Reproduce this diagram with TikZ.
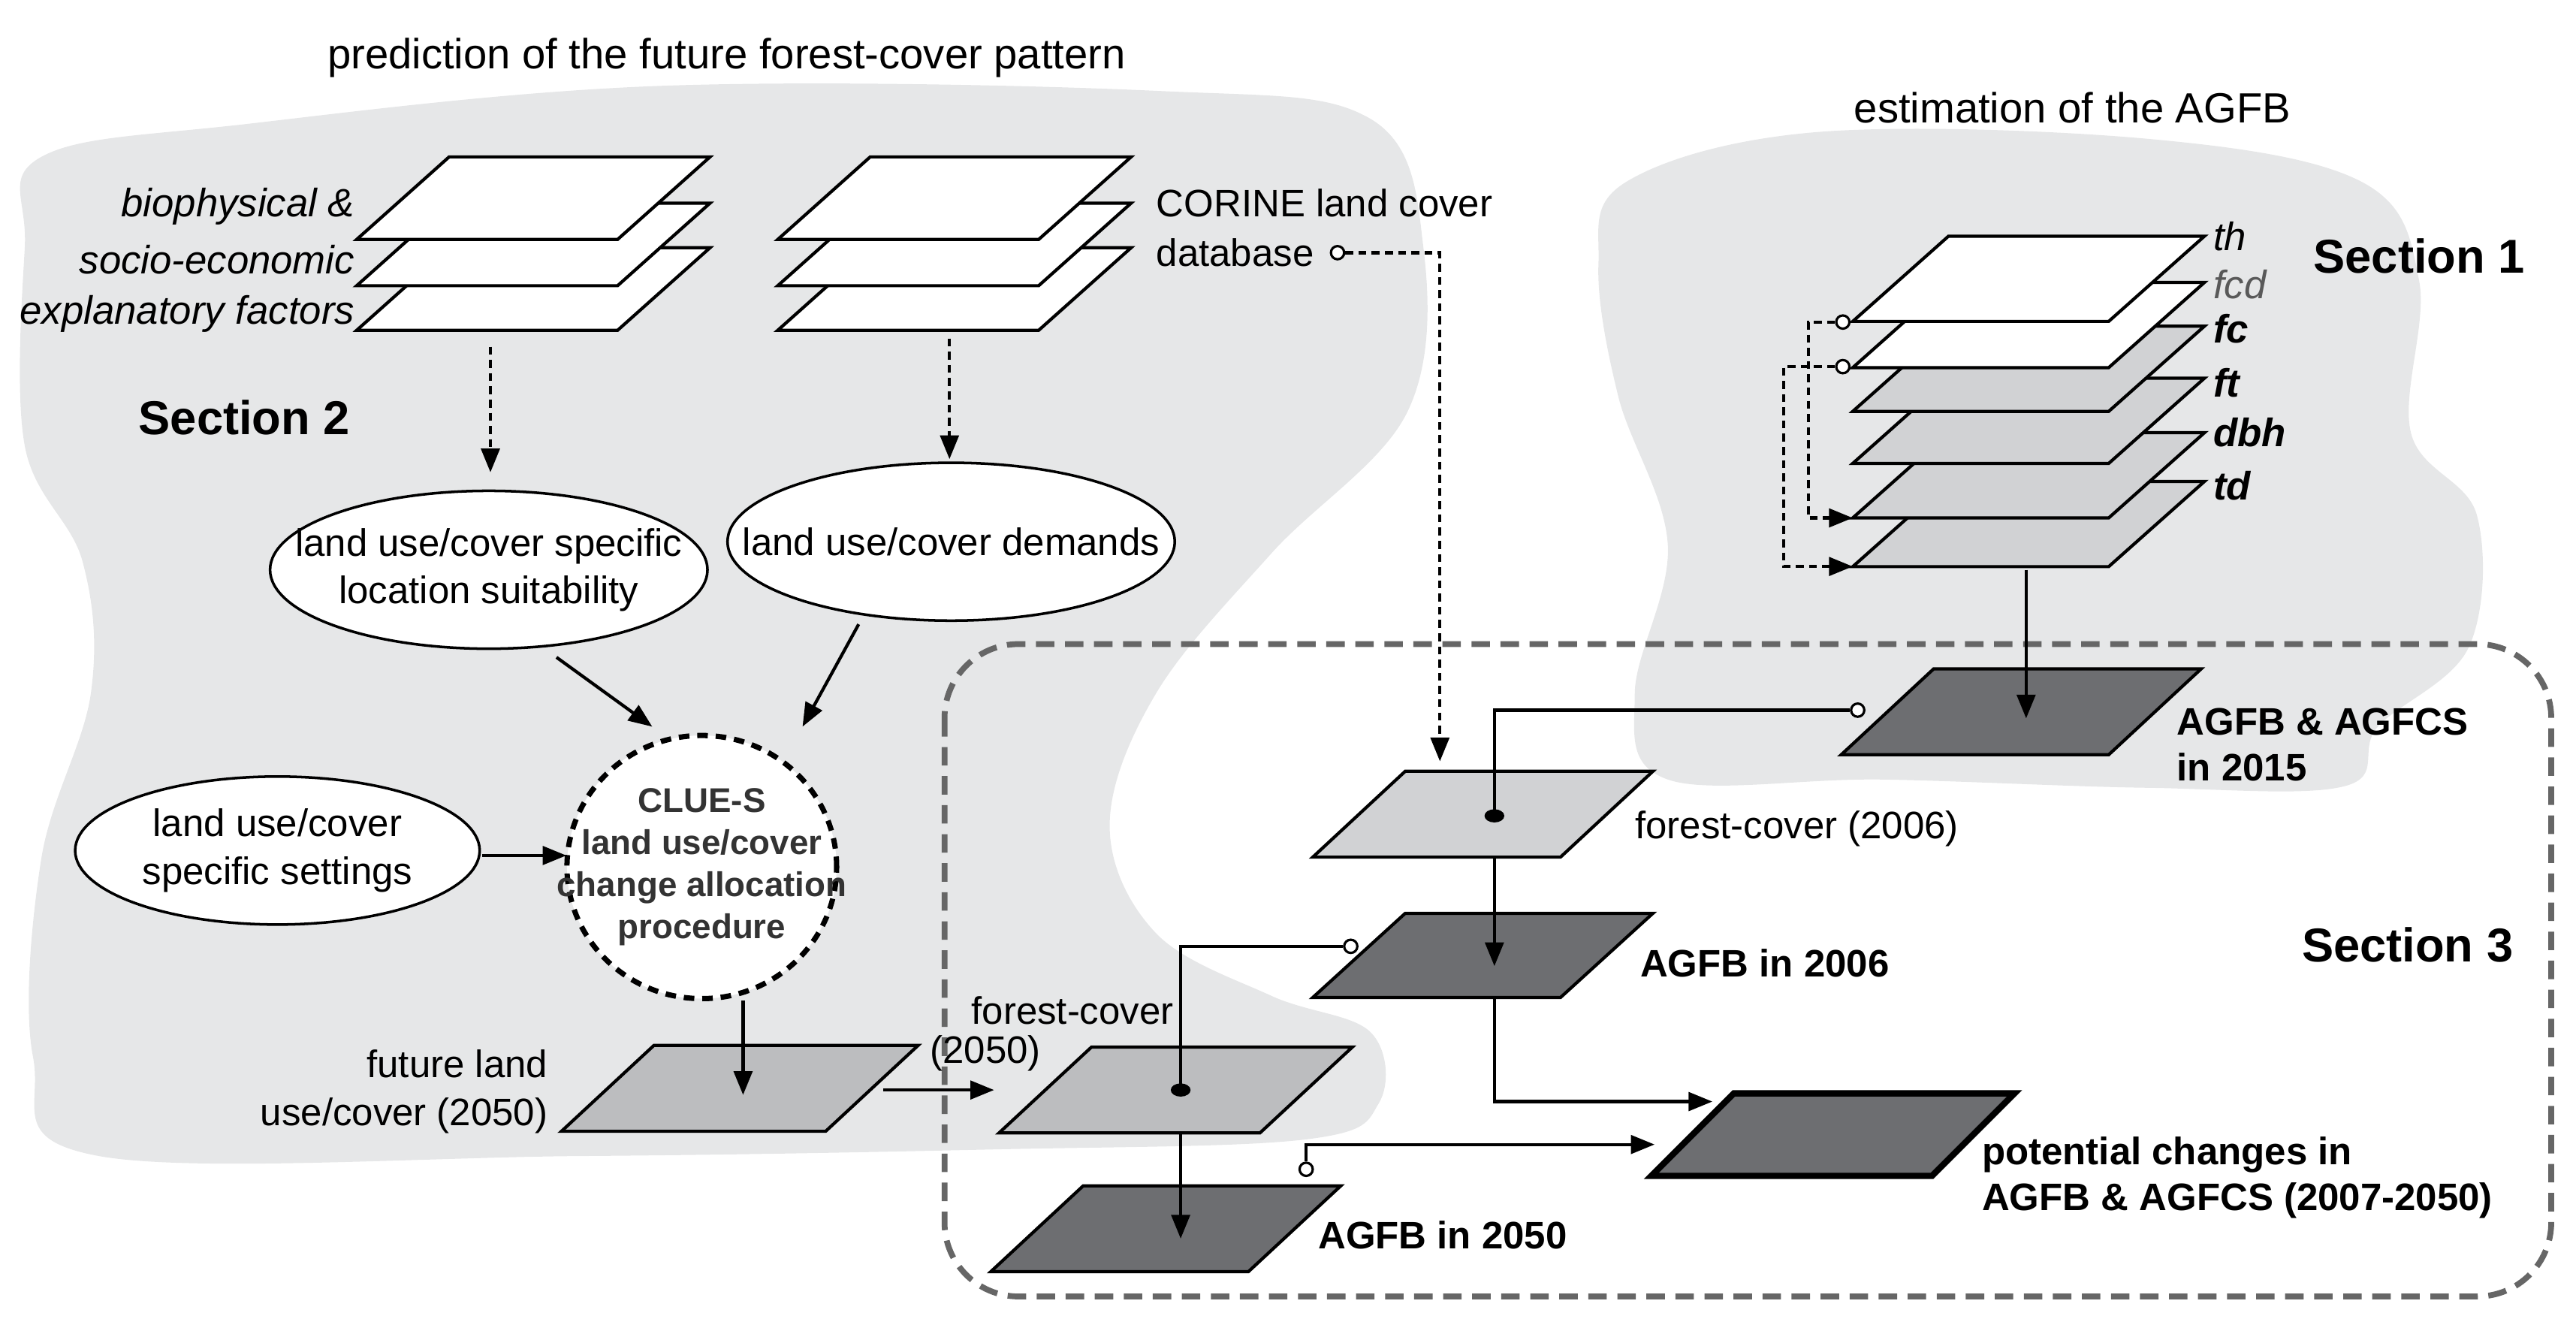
\documentclass[tikz,border=0pt]{standalone}
\usepackage{fontspec}
\setmainfont{Liberation Sans}
\usetikzlibrary{arrows.meta,shapes.geometric}
\definecolor{blob}{HTML}{E6E7E8}
\definecolor{lg}{HTML}{D1D2D4}
\definecolor{mg}{HTML}{BCBDBF}
\definecolor{dg}{HTML}{6D6E71}
\tikzset{
 para/.style={draw=black,line width=1.2pt,line join=miter},
 arr/.style={line width=1.2pt,-{Triangle[length=9pt,width=7pt]}},
 darr/.style={arr,dash pattern=on 3pt off 2pt},
 ell/.style={draw,ellipse,line width=1pt,fill=white,inner sep=0pt},
 txt/.style={font=\fontsize{14.5}{18}\selectfont,inner sep=0pt,align=left},
 btxt/.style={txt,font=\fontsize{14.5}{17.5}\selectfont\bfseries},
 itx/.style={txt,font=\fontsize{15}{17}\selectfont\itshape},
 bitx/.style={txt,font=\fontsize{15}{17}\selectfont\bfseries\itshape},
 sec/.style={font=\fontsize{18}{20}\selectfont\bfseries,inner sep=0pt},
 oc/.style={draw,circle,fill=white,line width=0.9pt,minimum size=5pt,inner sep=0pt},
}
\newcommand\para[6]{\draw[para,fill=#6] (#1,#2)--++(#3,0)--++(-#5,#4)--++(-#3,0)--cycle;}
\begin{document}
\begin{tikzpicture}[x=0.021987cm,y=-0.021987cm]
\useasboundingbox (0,0) rectangle (1560,804);
% blobs
\fill[blob] plot[smooth cycle,tension=0.6] coordinates{(25,95)(150,75)(400,52)(700,55)(830,72)(862,150)(852,250)(770,335)(700,420)(672,500)(700,565)(770,603)(830,625)(835,668)(790,690)(600,696)(350,700)(60,700)(20,640)(25,520)(55,420)(50,340)(15,270)(15,150)};
\fill[blob] plot[smooth cycle,tension=0.6] coordinates{(985,110)(1100,80)(1300,84)(1430,110)(1465,170)(1460,262)(1500,312)(1495,392)(1440,440)(1420,476)(1300,477)(1140,472)(1010,472)(990,420)(1010,330)(980,240)(968,160)};
\draw[gray!80!black,line width=2.2pt,dash pattern=on 7pt off 4pt,rounded corners=28pt] (572,390) rectangle (1545,785);
% titles
\node[txt,font=\fontsize{16}{18}\selectfont] (t1) at (440,35) {prediction of the future forest-cover pattern};
\node[txt,font=\fontsize{16}{18}\selectfont] (t2) at (1255,65) {estimation of the AGFB};
\node[sec] (s1) at (1465,155) {Section 1};
\node[sec] (s2) at (148,253) {Section 2};
\node[sec] (s3) at (1458,572) {Section 3};
% stack 1
\foreach \dy in {55,28,0}{\para{272}{95+\dy}{158}{50}{56}{white}}
\node[itx,anchor=east] (b1) at (215,125) {biophysical \&};
\node[itx,anchor=east] (b2) at (215,157) {socio-economic};
\node[itx,anchor=east] (b3) at (215,190) {explanatory factors};
% stack 2
\foreach \dy in {55,28,0}{\para{527}{95+\dy}{158}{50}{56}{white}}
\node[txt,anchor=west] (cor) at (700,123) {CORINE land cover};
\node[txt,anchor=west] (db) at (700,153) {database};
\node[oc] (dbc) at (810,153) {};
% ellipses
\node[ell,minimum width=266*0.623pt,minimum height=96*0.623pt] (suit) at (296,345) {};
\node[txt,align=center] at (296,345) {land use/cover specific\\location suitability};
\node[ell,minimum width=272*0.623pt,minimum height=96*0.623pt] (dem) at (576,328) {};
\node[txt] at (576,328) {land use/cover demands};
\node[ell,minimum width=246*0.623pt,minimum height=90*0.623pt] (set) at (168,515) {};
\node[txt,align=center] at (168,515) {land use/cover\\specific settings};
\node[draw,ellipse,line width=2pt,dash pattern=on 4pt off 3pt,fill=white,minimum width=164*0.623pt,minimum height=160*0.623pt] (clue) at (425,525) {};
\node[txt,font=\fontsize{13}{16}\selectfont\bfseries,align=center,text=black!80] at (425,525) {CLUE-S\\land use/cover\\change allocation\\procedure};
% future land
\para{396}{633}{160}{52}{56}{mg}
\node[txt,align=right,anchor=east] (fl) at (332,661) {future land\\use/cover (2050)};
% forest cover 2050
\para{661}{634}{158}{52}{56}{mg}
\node[txt,anchor=west] (fcl) at (588,612) {forest-cover};
\node[txt,anchor=west] (fcy) at (563,638) {(2050)};
\para{656}{718}{156}{52}{56}{dg}
\node[btxt,anchor=west] at (798,748) {AGFB in 2050};
% potential changes
\draw[para,line width=2.4pt,fill=dg] (1050,662)--++(170,0)--++(-50,50)--++(-170,0)--cycle;
\node[btxt,anchor=west] at (1200,713) {potential changes in\\AGFB \& AGFCS (2007-2050)};
% forest cover 2006
\para{851}{467}{150}{52}{56}{lg}
\node[txt,anchor=west] at (990,502) {forest-cover (2006)};
\para{851}{553}{150}{51}{56}{dg}
\node[btxt,anchor=west] at (993,583) {AGFB in 2006};
% AGFB 2015
\para{1171}{405}{162}{52}{56}{dg}
\node[btxt,anchor=west] at (1318,451) {AGFB \& AGFCS\\in 2015};
% right stack
\foreach \t/\c in {291.5/lg,262/lg,229/lg,197.5/lg,171/white,143/white}{\para{1180}{\t}{155}{51.6}{58}{\c}}
\node[itx,anchor=west] at (1340,143) {th};
\node[itx,anchor=west,text=black!65] at (1340,172) {fcd};
\node[bitx,anchor=west] at (1340,199) {fc};
\node[bitx,anchor=west] at (1340,232) {ft};
\node[bitx,anchor=west] at (1340,262) {dbh};
\node[bitx,anchor=west] at (1340,294) {td};
% connectors
\coordinate (s1b) at (297,210); \coordinate (s1e) at (297,286);
\draw[darr] (s1b) -- (s1e);
\coordinate (s2b) at (575,205); \coordinate (s2e) at (575,278);
\draw[darr] (s2b) -- (s2e);
\coordinate (a1) at (337,398); \coordinate (a1e) at (395,440);
\draw[arr] (a1) -- (a1e);
\coordinate (a2) at (520,378); \coordinate (a2e) at (486,440);
\draw[arr] (a2) -- (a2e);
\coordinate (a3) at (292,518); \coordinate (a3e) at (343,518);
\draw[arr] (a3) -- (a3e);
\coordinate (c1) at (450,606); \coordinate (c1e) at (450,663);
\draw[arr] (c1) -- (c1e);
\coordinate (dbt) at (872,153); \coordinate (dbe) at (872,461);
\draw[darr] (dbc) -- (dbt) -- (dbe);
\coordinate (f1) at (535,660); \coordinate (f1e) at (602,660);
\draw[arr] (f1) -- (f1e);
\fill (715,660) ellipse (6 and 4);
\node[oc] (o50) at (818,573) {};
\coordinate (d50) at (715,660);
\draw[line width=1.2pt] (d50) -- (715,573) -- (o50);
\coordinate (fc50b) at (715,686); \coordinate (fc50e) at (715,750);
\draw[arr] (fc50b) -- (fc50e);
\node[oc] (o50b) at (791,708) {};
\coordinate (pc1) at (1002,693);
\draw[arr] (o50b) -- (791,693) -- (pc1);
\fill (905,494) ellipse (6 and 4);
\node[oc] (o06) at (1125,430) {};
\coordinate (d06) at (905,494);
\draw[line width=1.2pt] (d06) -- (905,430) -- (o06);
\coordinate (fc06b) at (905,519); \coordinate (fc06e) at (905,585);
\draw[arr] (fc06b) -- (fc06e);
\coordinate (ag06) at (905,604); \coordinate (pc2) at (1037,667);
\draw[arr] (ag06) -- (905,667) -- (pc2);
\coordinate (st) at (1227,345); \coordinate (ste) at (1227,435);
\draw[arr] (st) -- (ste);
\node[oc] (r1) at (1116,195) {};
\node[oc] (r2) at (1116,222) {};
\coordinate (r1e) at (1122,313.6); \coordinate (r2e) at (1122,343);
\draw[darr] (r1) -- (1095,195) -- (1095,313.6) -- (r1e);
\draw[darr] (r2) -- (1080,222) -- (1080,343) -- (r2e);
\end{tikzpicture}
\end{document}
